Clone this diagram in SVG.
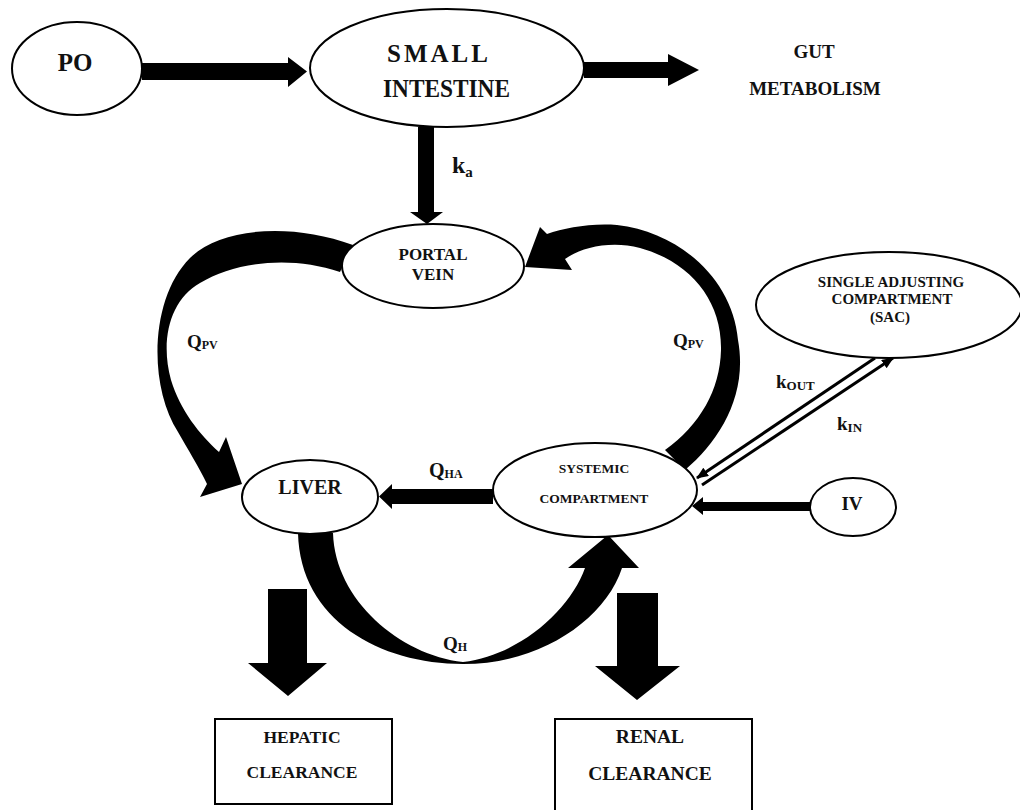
<svg xmlns="http://www.w3.org/2000/svg" width="1020" height="810" viewBox="0 0 1020 810">
<defs>
<style>
.node{fill:#fff;stroke:#000;stroke-width:2}
.t{font-family:"Liberation Serif","Times New Roman",serif;font-weight:bold;fill:#111;text-anchor:middle}
.l{font-family:"Liberation Serif","Times New Roman",serif;font-weight:bold;fill:#111}
.fat{fill:#000;stroke:none}
.thin{stroke:#000;stroke-width:3;fill:none}
</style>
<marker id="ah" viewBox="0 0 12 10" refX="11" refY="5" markerWidth="12" markerHeight="10" markerUnits="userSpaceOnUse" orient="auto">
<path d="M0,0 L12,5 L0,10 Z" fill="#000"/>
</marker>
</defs>
<rect width="1020" height="810" fill="#fff"/>

<g id="connectors">
<polygon class="fat" points="142,63 288,63 288,57 307,71.5 288,87 288,80 142,80"/>
<polygon class="fat" points="584,62 668,62 668,54 699,70 668,86 668,78 584,78"/>
<polygon class="fat" points="418,127 434,127 434,212 443,212 427,224 410,212 418,212"/>
<path class="fat" d="M353,245 C290,222 220,228 190,258 C150,298 148,385 178,432 C188,450 198,465 207,484 L200,497 L242,484 L226,437 L219,452 C200,435 180,410 171,380 C160,340 170,300 200,283 C235,262 290,255 340,272 Z"/>
<path class="fat" d="M665,450 L685,470 C720,440 748,395 738,340 C733,280 680,232 617,225 C590,223 565,228 547,234 L540,227 L525,267 L572,270 L565,259 C580,248 610,240 640,248 C690,262 722,300 721,350 C720,390 700,425 665,450 Z"/>
<polygon class="fat" points="493,489 392,489 392,484 379,496.5 392,509 392,504 493,504"/>
<path class="fat" d="M298,533 L333,533 C335,600 400,655 463,662 C520,655 570,610 585,568 L568,568 L608,535 L639,568 L622,568 C605,620 540,664 463,664 C380,664 300,620 298,533 Z"/>
<polygon class="fat" points="810,502 703,502 703,497 692,506 703,515 703,511 810,511"/>
<polygon class="fat" points="268,589 307,589 307,663 327,663 288,696 248,663 268,663"/>
<polygon class="fat" points="617,593 658,593 658,666 680,666 637,700 595,666 617,666"/>
<line class="thin" x1="875" y1="358" x2="697" y2="478" marker-end="url(#ah)"/>
<line class="thin" x1="702" y1="485" x2="893" y2="358" marker-end="url(#ah)"/>
</g>

<g id="labels">
<text class="l" x="452" y="173" font-size="24">k<tspan font-size="15" dy="4">a</tspan></text>
<text class="l" x="187" y="348" font-size="19">Q<tspan font-size="12" dy="1">PV</tspan></text>
<text class="l" x="673" y="347" font-size="19">Q<tspan font-size="12" dy="1">PV</tspan></text>
<text class="l" x="429" y="477" font-size="20">Q<tspan font-size="12" dy="1">HA</tspan></text>
<text class="l" x="443" y="650" font-size="19">Q<tspan font-size="12" dy="1">H</tspan></text>
<text class="l" x="776" y="388" font-size="19">k<tspan font-size="13" dy="2">OUT</tspan></text>
<text class="l" x="837" y="430" font-size="19">k<tspan font-size="13" dy="2">IN</tspan></text>
</g>

<g id="po">
<ellipse class="node" cx="77" cy="68.5" rx="65" ry="46.5"/>
<text class="t" x="75" y="71" font-size="25">PO</text>
</g>
<g id="small-intestine">
<ellipse class="node" cx="447" cy="68" rx="137" ry="59"/>
<text class="l" x="387" y="62" font-size="25" textLength="101" lengthAdjust="spacing">SMALL</text>
<text class="l" x="383" y="97" font-size="25" textLength="127" lengthAdjust="spacingAndGlyphs">INTESTINE</text>
</g>
<g id="gut-metabolism">
<text class="t" x="814" y="58" font-size="19">GUT</text>
<text class="t" x="815" y="95" font-size="19">METABOLISM</text>
</g>
<g id="portal-vein">
<ellipse class="node" cx="433" cy="266" rx="91" ry="42"/>
<text class="t" x="433" y="260" font-size="17">PORTAL</text>
<text class="t" x="433" y="280" font-size="17">VEIN</text>
</g>
<g id="liver">
<ellipse class="node" cx="310" cy="497" rx="68" ry="37"/>
<text class="t" x="310" y="494" font-size="20">LIVER</text>
</g>
<g id="systemic">
<ellipse class="node" cx="595" cy="490" rx="102" ry="47"/>
<text class="t" x="594" y="473" font-size="13.5">SYSTEMIC</text>
<text class="t" x="594" y="503" font-size="13.5">COMPARTMENT</text>
</g>
<g id="sac">
<ellipse class="node" cx="889" cy="305" rx="133" ry="53"/>
<text class="t" x="891" y="287" font-size="15">SINGLE ADJUSTING</text>
<text class="t" x="892" y="304" font-size="15">COMPARTMENT</text>
<text class="t" x="890" y="322" font-size="15">(SAC)</text>
</g>
<g id="iv">
<ellipse class="node" cx="853" cy="507" rx="43" ry="29"/>
<text class="t" x="852" y="510" font-size="19">IV</text>
</g>
<g id="hepatic-clearance">
<rect class="node" x="215" y="719" width="177" height="85"/>
<text class="t" x="302" y="743" font-size="17.5">HEPATIC</text>
<text class="t" x="302" y="778" font-size="17.5">CLEARANCE</text>
</g>
<g id="renal-clearance">
<rect class="node" x="555" y="719" width="197" height="95"/>
<text class="t" x="650" y="743" font-size="19.5">RENAL</text>
<text class="t" x="650" y="780" font-size="19.5">CLEARANCE</text>
</g>
</svg>
